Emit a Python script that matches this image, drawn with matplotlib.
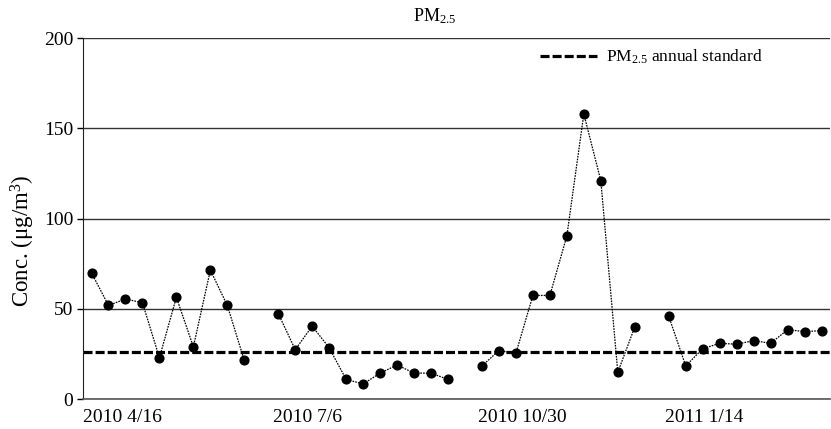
#!/usr/bin/env python3
import numpy as np
import matplotlib
matplotlib.use('Agg')
import matplotlib.pyplot as plt

# weekly PM2.5 samples, nan = missing sample (breaks the line)
pm25 = [70, 52, 55.5, 53.5, 23, 56.5, 29, 71.5, 52, 21.5, np.nan,
        47.5, 27.5, 40.5, 28.5, 11, 8.5, 14.5, 19, 14.5, 14.5, 11, np.nan,
        18.5, 27, 25.5, 57.5, 57.5, 90.5, 158, 121, 15, 40, np.nan,
        46, 18.5, 28, 31, 30.5, 32.5, 31, 38.5, 37.5, 38]
standard = 26
date_labels = ['2010 4/16', '2010 7/6', '2010 10/30', '2011 1/14']
date_pos = [1.8, 12.7, 25.4, 36.1]

plt.rcParams['font.family'] = ['Liberation Serif', 'DejaVu Serif']
plt.rcParams['mathtext.fontset'] = 'custom'
plt.rcParams['mathtext.rm'] = 'Liberation Serif'
plt.rcParams['mathtext.it'] = 'Liberation Serif:italic'
plt.rcParams['lines.scale_dashes'] = False


def main():
    fig = plt.figure(figsize=(8.31, 4.29), dpi=100)
    ax = fig.add_axes([0.0999, 0.0692, 0.8989, 0.8422])

    x = np.arange(len(pm25))
    ax.plot(x, pm25, color='black', lw=0.9, linestyle=(0, (1.2, 0.8)),
            marker='o', markersize=6.3, markerfacecolor='black', markeredgecolor='black')
    ax.axhline(standard, color='black', lw=2.3, dashes=(6.5, 2.2),
               label=r'PM$_{\mathrm{2.5}}$ annual standard')

    ax.set_xlim(-0.5, len(pm25) - 0.5)
    ax.set_ylim(0, 200)
    ax.set_yticks([0, 50, 100, 150, 200])
    ax.yaxis.grid(True, color='#333333', lw=1)
    ax.set_axisbelow(True)
    ax.set_xticks(date_pos)
    ax.set_xticklabels(date_labels)
    ax.tick_params(axis='x', length=0, pad=7, labelsize=14)
    ax.tick_params(axis='y', length=4, width=1, pad=3, labelsize=14)

    for side in ['top', 'right']:
        ax.spines[side].set_visible(False)
    ax.spines['left'].set_color('#222222')
    ax.spines['bottom'].set_color('#555555')
    ax.spines['bottom'].set_linewidth(1.2)

    # y label sits a bit below the axes centre in the original
    fig.text(23 / 831, 1 - 241 / 429, r'Conc. (μg/m$^{\mathrm{3}}$)', fontsize=16.5,
             rotation=90, ha='center', va='center')
    fig.text(435 / 831, 1 - 16 / 429, r'PM$_{\mathrm{2.5}}$', fontsize=13,
             ha='center', va='center')

    ax.legend(loc='center left', bbox_to_anchor=(540 / 831, 1 - 57 / 429),
              bbox_transform=fig.transFigure, frameon=False, fontsize=12.5,
              handlelength=3.3, handletextpad=0.5, borderpad=0, borderaxespad=0)

    fig.savefig('out.png', dpi=100)


if __name__ == "__main__":
    main()
